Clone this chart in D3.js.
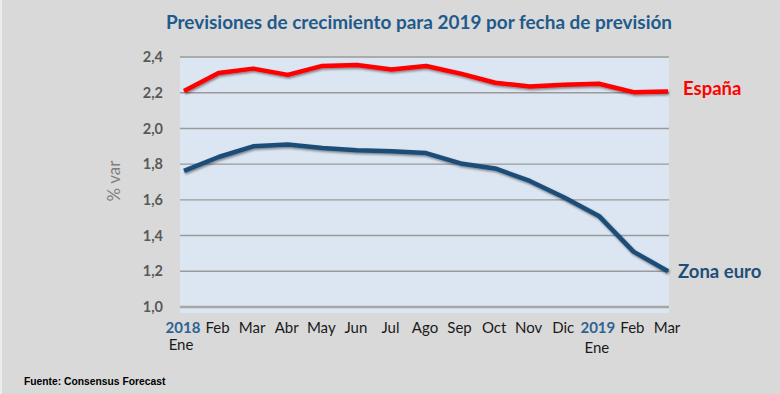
<!DOCTYPE html>
<html>
<head>
<meta charset="utf-8">
<script src="https://cdn.jsdelivr.net/npm/d3@7"></script>
<style>
  html, body { margin: 0; padding: 0; background: #d9d9d9; }
  svg { display: block; }
</style>
</head>
<body>
<svg id="chart" width="780" height="394"></svg>
<script>
const months = ['Ene', 'Feb', 'Mar', 'Abr', 'May', 'Jun', 'Jul', 'Ago', 'Sep', 'Oct', 'Nov', 'Dic', 'Ene19', 'Feb19', 'Mar19'];
const monthLabels = ['2018', 'Feb', 'Mar', 'Abr', 'May', 'Jun', 'Jul', 'Ago', 'Sep', 'Oct', 'Nov', 'Dic', '2019', 'Feb', 'Mar'];
const espana = [2.21, 2.31, 2.335, 2.30, 2.35, 2.355, 2.33, 2.35, 2.307, 2.256, 2.235, 2.245, 2.25, 2.203, 2.207];
const zonaEuro = [1.762, 1.84, 1.90, 1.91, 1.89, 1.878, 1.872, 1.862, 1.804, 1.776, 1.706, 1.613, 1.51, 1.31, 1.20];
const yTicks = [1.0, 1.2, 1.4, 1.6, 1.8, 2.0, 2.2, 2.4];

const PLOT = {left: 180, right: 669, top: 57, bottom: 313};
const FONT = 'Lato, "Open Sans", sans-serif';

const svg = d3.select('#chart');

const defs = svg.append('defs');
const shadow = defs.append('filter').attr('id', 'shadow')
  .attr('x', '-5%').attr('y', '-20%').attr('width', '110%').attr('height', '140%');
shadow.append('feDropShadow')
  .attr('dx', 1).attr('dy', 1.5).attr('stdDeviation', 1)
  .attr('flood-color', '#000').attr('flood-opacity', 0.45);

// left light edge
svg.append('rect').attr('x', 0).attr('y', 0).attr('width', 2).attr('height', 394).attr('fill', '#ececec');

const x = d3.scalePoint().domain(months).range([184, 668]);
const y = d3.scaleLinear().domain([1.0, 2.4]).range([307, 57]);

// plot background
svg.append('rect')
  .attr('x', PLOT.left).attr('y', PLOT.top)
  .attr('width', PLOT.right - PLOT.left).attr('height', PLOT.bottom - PLOT.top)
  .attr('fill', '#dce6f2');

// gridlines
svg.append('g').selectAll('line')
  .data(yTicks)
  .join('line')
  .attr('x1', PLOT.left).attr('x2', PLOT.right)
  .attr('y1', (d) => y(d)).attr('y2', (d) => y(d))
  .attr('stroke', (d) => d === 1.0 ? '#a6a6a6' : '#9a9a9a')
  .attr('stroke-width', (d) => d === 1.0 ? 2.5 : 1.4);

// y axis labels
const fmt = (d) => d3.format('.1f')(d).replace('.', ',');
svg.append('g').selectAll('text')
  .data(yTicks)
  .join('text')
  .attr('x', 163).attr('y', (d) => y(d))
  .attr('dy', '0.35em')
  .attr('text-anchor', 'end')
  .attr('font-family', FONT)
  .attr('font-weight', 'bold')
  .attr('font-size', 14.5)
  .attr('fill', '#595959')
  .text(fmt);

svg.append('text')
  .attr('transform', 'translate(120,181) rotate(-90)')
  .attr('text-anchor', 'middle')
  .attr('font-family', FONT)
  .attr('font-size', 17)
  .attr('fill', '#7f7f7f')
  .text('% var');

// x axis labels
svg.append('g').selectAll('text')
  .data(months)
  .join('text')
  .attr('x', (d) => x(d) - 1)
  .attr('y', 333)
  .attr('text-anchor', 'middle')
  .attr('font-family', FONT)
  .attr('font-size', 15)
  .attr('font-weight', (d, i) => (monthLabels[i] === '2018' || monthLabels[i] === '2019') ? 'bold' : 'normal')
  .attr('fill', (d, i) => (monthLabels[i] === '2018' || monthLabels[i] === '2019') ? '#2e6295' : '#1a1a1a')
  .text((d, i) => monthLabels[i]);

svg.append('text')
  .attr('x', x('Ene') - 3).attr('y', 350)
  .attr('text-anchor', 'middle')
  .attr('font-family', FONT)
  .attr('font-size', 15).attr('fill', '#1a1a1a')
  .text('Ene');
svg.append('text')
  .attr('x', x('Ene19') - 2).attr('y', 353)
  .attr('text-anchor', 'middle')
  .attr('font-family', FONT)
  .attr('font-size', 15).attr('fill', '#1a1a1a')
  .text('Ene');

// lines
const line = d3.line()
  .x((d, i) => x(months[i]))
  .y((d) => y(d));

svg.append('path')
  .datum(zonaEuro)
  .attr('d', line)
  .attr('fill', 'none')
  .attr('stroke', '#1f4e79')
  .attr('stroke-width', 4.5)
  .attr('stroke-linejoin', 'round')
  .attr('filter', 'url(#shadow)');

svg.append('path')
  .datum(espana)
  .attr('d', line)
  .attr('fill', 'none')
  .attr('stroke', '#ff0000')
  .attr('stroke-width', 4.5)
  .attr('stroke-linejoin', 'round')
  .attr('filter', 'url(#shadow)');

// series labels
svg.append('text')
  .attr('x', 683).attr('y', 95)
  .attr('font-family', FONT)
  .attr('font-weight', 'bold').attr('font-size', 18.5)
  .attr('fill', '#ff0000')
  .text('España');

svg.append('text')
  .attr('x', 678).attr('y', 278)
  .attr('font-family', FONT)
  .attr('font-weight', 'bold').attr('font-size', 18.5)
  .attr('fill', '#1f4e79')
  .text('Zona euro');

// title
svg.append('text')
  .attr('x', 166).attr('y', 29)
  .attr('textLength', 506).attr('lengthAdjust', 'spacingAndGlyphs')
  .attr('font-family', FONT)
  .attr('font-weight', 'bold').attr('font-size', 18)
  .attr('fill', '#1f5a8c')
  .text('Previsiones de crecimiento para 2019 por fecha de previsión');

// source
svg.append('text')
  .attr('x', 24).attr('y', 385)
  .attr('font-family', '"Liberation Sans", Arial, sans-serif')
  .attr('font-weight', 'bold').attr('font-size', 10.3)
  .attr('fill', '#000')
  .text('Fuente: Consensus Forecast');
</script>
</body>
</html>
